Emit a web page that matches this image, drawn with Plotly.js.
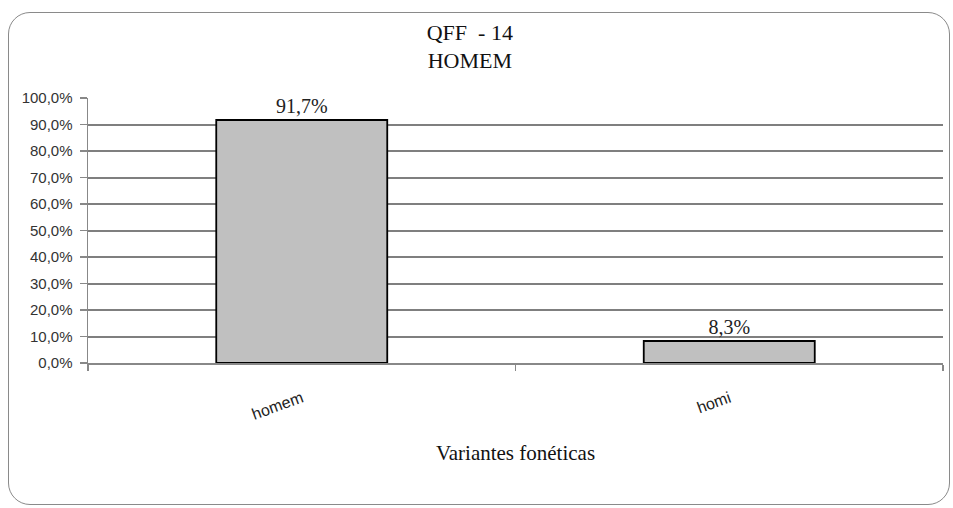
<!DOCTYPE html>
<html><head><meta charset="utf-8">
<script src="https://cdn.plot.ly/plotly-3.0.1.min.js"></script>
<style>
html,body{margin:0;padding:0;background:#fff;}
#wrap{position:relative;width:953px;height:508px;}
#chart{width:953px;height:508px;}
#frame{position:absolute;left:8px;top:12px;width:940px;height:491px;border:1.5px solid #8a8a8a;border-radius:22px;pointer-events:none;}
</style></head>
<body>
<div id="wrap"><div id="chart"></div><div id="frame"></div></div>
<script>
const categories = ["homem", "homi"];
const values = [0.917, 0.083];
const tickVals = [0, 0.1, 0.2, 0.3, 0.4, 0.5, 0.6, 0.7, 0.8, 0.9, 1.0];

const trace = {
  type: "bar",
  x: categories,
  y: values,
  width: 0.4,
  marker: {color: "#c0c0c0", line: {color: "#000", width: 1.8}},
  text: values,
  texttemplate: "%{y:.1%}",
  textposition: "outside",
  cliponaxis: false,
  textfont: {family: "Liberation Serif, Times New Roman, serif", size: 20, color: "#222"},
  hoverinfo: "skip"
};

const layout = {
  width: 953, height: 508,
  margin: {l: 88, r: 10, t: 98, b: 145},
  separators: ",.",
  paper_bgcolor: "#fff", plot_bgcolor: "#fff",
  showlegend: false,
  title: {
    text: "QFF  - 14<br>HOMEM",
    x: 0.493, xref: "container", xanchor: "center",
    y: 0.922, yref: "container", yanchor: "top",
    font: {family: "Liberation Serif, Times New Roman, serif", size: 22, color: "#111"}
  },
  xaxis: {
    type: "category",
    tickangle: -20,
    tickson: "boundaries",
    ticks: "outside", ticklen: 6, tickcolor: "#888", tickwidth: 1.5,
    ticklabelstandoff: 18,
    showline: true, linecolor: "#888", linewidth: 2,
    showgrid: false,
    tickfont: {family: "Liberation Sans, Arial, sans-serif", size: 16, color: "#222"},
    title: {text: "Variantes fonéticas", standoff: 24,
      font: {family: "Liberation Serif, Times New Roman, serif", size: 21, color: "#111"}}
  },
  yaxis: {
    range: [0, 1.0],
    tickvals: tickVals,
    tickformat: ".1%",
    ticks: "outside", ticklen: 7, tickcolor: "#888", tickwidth: 1.5,
    ticklabelstandoff: 4,
    showline: true, linecolor: "#888", linewidth: 1.5,
    showgrid: true, gridcolor: "#7f7f7f", gridwidth: 2,
    zeroline: false,
    tickfont: {family: "Liberation Sans, Arial, sans-serif", size: 15, color: "#333"}
  },
  bargap: 0.6
};

Plotly.newPlot("chart", [trace], layout, {displayModeBar: false, staticPlot: true});
</script>
</body></html>
